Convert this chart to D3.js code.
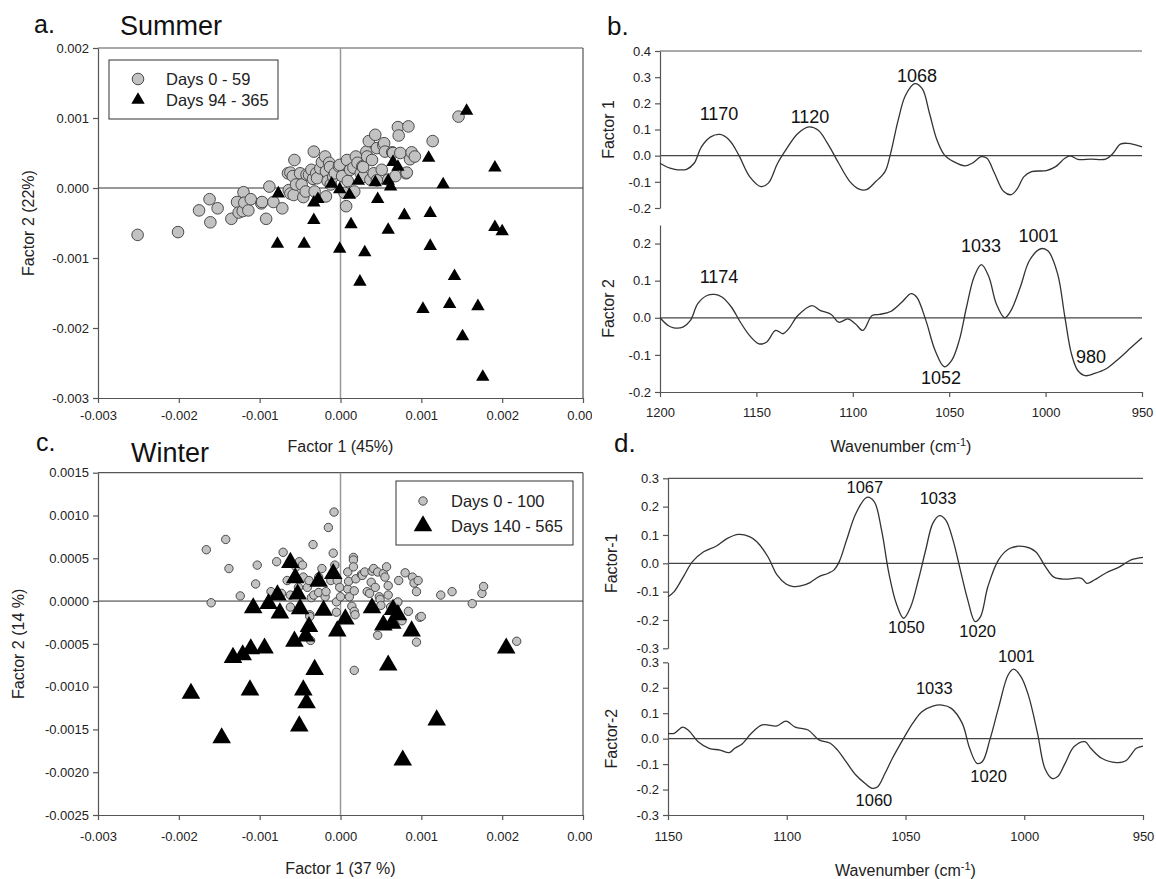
<!DOCTYPE html>
<html>
<head>
<meta charset="utf-8">
<script src="https://cdn.jsdelivr.net/npm/d3@7"></script>
<style>
  body { margin: 0; background: #fff; }
  text { font-family: "Liberation Sans", Arial, sans-serif; }
</style>
</head>
<body>
<script>
// ---- data: PCA factor scores ----
var scoreTicksX = [-0.003, -0.002, -0.001, 0, 0.001, 0.002, 0.003];
var summerTicksY = [0.002, 0.001, 0, -0.001, -0.002, -0.003];
var winterTicksY = [0.0015, 0.001, 0.0005, 0, -0.0005, -0.001, -0.0015, -0.002, -0.0025];

var summerLegend = ["Days 0 - 59", "Days 94 - 365"];
var winterLegend = ["Days 0 - 100", "Days 140 - 565"];

// summer, days 0-59 : [factor1, factor2]
var summerEarly = [[-0.00251,-0.00067],[-0.00201,-0.00063],[-0.00175,-0.00032],[-0.00162,-0.00016],[-0.00161,-0.00049],[-0.00152,-0.00029],[-0.00135,-0.00044],[-0.00128,-0.00020],[-0.00126,-0.00035],[-0.00121,-0.00033],[-0.00120,-0.00006],[-0.00119,-0.00021],[-0.00114,-0.00032],[-0.00111,-0.00016],[-0.00098,-0.00022],[-0.00097,-0.00020],[-0.00092,-0.00044],[-0.00088,0.00002],[-0.00083,-0.00020],[-0.00072,-0.00029],[-0.00065,0.00021],[-0.00064,-0.00003],[-0.00062,0.00022],[-0.00062,-0.00008],[-0.00059,0.00017],[-0.00058,-0.00010],[-0.00057,0.00040],[-0.00055,0.00005],[-0.00050,0.00021],[-0.00048,0.00005],[-0.00046,-0.00013],[-0.00043,-0.00005],[-0.00042,0.00019],[-0.00039,0.00019],[-0.00036,0.00026],[-0.00034,0.00013],[-0.00033,0.00052],[-0.00032,-0.00005],[-0.00030,0.00021],[-0.00029,0.00014],[-0.00025,0.00028],[-0.00023,0.00037],[-0.00019,0.00045],[-0.00018,-0.00012],[-0.00018,0.00024],[-0.00016,0.00010],[-0.00014,0.00036],[-0.00013,0.00030],[-0.00012,0.00005],[-0.00009,0.00016],[-0.00007,0.00021],[-0.00002,0.00031],[-0.00001,0.00033],[0.00002,0.00017],[0.00005,-0.00007],[0.00007,-0.00026],[0.00008,0.00040],[0.00009,0.00010],[0.00012,0.00026],[0.00016,0.00029],[0.00017,-0.00005],[0.00019,0.00045],[0.00021,0.00036],[0.00025,0.00021],[0.00027,0.00031],[0.00028,0.00016],[0.00028,0.00030],[0.00032,0.00052],[0.00033,0.00045],[0.00035,0.00067],[0.00037,0.00012],[0.00039,0.00040],[0.00041,0.00021],[0.00043,0.00076],[0.00045,0.00057],[0.00045,0.00011],[0.00051,0.00026],[0.00053,0.00061],[0.00054,0.00064],[0.00055,0.00052],[0.00059,0.00012],[0.00064,0.00051],[0.00065,0.00050],[0.00068,0.00017],[0.00071,0.00087],[0.00072,0.00075],[0.00074,0.00050],[0.00081,0.00021],[0.00082,0.00022],[0.00084,0.00088],[0.00086,0.00041],[0.00088,0.00051],[0.00092,0.00045],[0.00114,0.00067],[0.00146,0.00102]];

// summer, days 94-365
var summerLate = [[-0.00077,-0.00008],[-0.00078,-0.00080],[-0.00045,-0.00080],[-0.00033,-0.00021],[-0.00033,-0.00046],[-0.00028,-0.00016],[-0.00011,0.00006],[-0.00001,-0.00002],[-0.00001,-0.00087],[0.00011,-0.00010],[0.00013,-0.00052],[0.00022,0.00010],[0.00024,-0.00134],[0.00030,-0.00092],[0.00043,0.00008],[0.00046,-0.00016],[0.00059,0.00010],[0.00059,-0.00060],[0.00062,0.00002],[0.00065,0.00037],[0.00071,0.00030],[0.00079,-0.00039],[0.00102,-0.00173],[0.00109,0.00043],[0.00111,-0.00036],[0.00111,-0.00083],[0.00127,0.00005],[0.00135,-0.00166],[0.00141,-0.00126],[0.00151,-0.00212],[0.00156,0.00110],[0.00170,-0.00169],[0.00176,-0.00270],[0.00191,0.00029],[0.00191,-0.00056],[0.00200,-0.00062]];

// winter, days 0-100
var winterEarly = [[-0.00166,0.00060],[-0.00160,-0.00002],[-0.00142,0.00072],[-0.00138,0.00038],[-0.00124,0.00006],[-0.00105,0.00020],[-0.00103,0.00042],[-0.00086,0.00011],[-0.00079,0.00046],[-0.00073,0.00009],[-0.00071,0.00057],[-0.00066,0.00024],[-0.00062,0.00007],[-0.00062,-0.00007],[-0.00055,0.00040],[-0.00052,0.00016],[-0.00051,0.00046],[-0.00047,0.00042],[-0.00046,0.00028],[-0.00041,0.00016],[-0.00039,0.00024],[-0.00038,-0.00016],[-0.00038,-0.00018],[-0.00037,-0.00046],[-0.00036,0.00004],[-0.00034,0.00066],[-0.00033,0.00007],[-0.00027,0.00028],[-0.00027,0.00010],[-0.00023,0.00038],[-0.00019,0.00005],[-0.00018,0.00011],[-0.00015,0.00086],[-0.00012,0.00024],[-0.00009,0.00056],[-0.00008,0.00104],[-0.00007,0.00042],[-0.00005,-0.00001],[-0.00005,-0.00013],[-0.00004,0.00024],[-0.00001,0.00016],[0.00000,0.00005],[0.00009,0.00034],[0.00009,0.00014],[0.00010,0.00023],[0.00011,0.00005],[0.00014,-0.00006],[0.00016,0.00051],[0.00016,0.00048],[0.00016,0.00040],[0.00017,0.00012],[0.00017,-0.00012],[0.00017,-0.00081],[0.00018,-0.00016],[0.00019,0.00026],[0.00026,0.00031],[0.00027,0.00030],[0.00030,0.00034],[0.00033,0.00011],[0.00036,0.00009],[0.00038,0.00022],[0.00039,0.00035],[0.00041,0.00038],[0.00043,0.00016],[0.00046,0.00034],[0.00046,-0.00040],[0.00048,0.00005],[0.00049,0.00002],[0.00050,-0.00005],[0.00053,0.00032],[0.00055,0.00028],[0.00057,0.00040],[0.00059,0.00007],[0.00059,0.00018],[0.00062,-0.00007],[0.00070,-0.00002],[0.00071,-0.00001],[0.00072,0.00024],[0.00076,-0.00023],[0.00080,0.00033],[0.00084,-0.00012],[0.00089,0.00028],[0.00091,0.00021],[0.00094,0.00011],[0.00094,-0.00048],[0.00096,0.00024],[0.00098,-0.00019],[0.00100,-0.00018],[0.00124,0.00007],[0.00138,0.00011],[0.00163,-0.00003],[0.00175,0.00009],[0.00177,0.00017],[0.00218,-0.00047]];

// winter, days 140-565
var winterLate = [[-0.00185,-0.00108],[-0.00147,-0.00160],[-0.00133,-0.00066],[-0.00121,-0.00063],[-0.00111,-0.00056],[-0.00112,-0.00104],[-0.00108,-0.00008],[-0.00094,-0.00055],[-0.00089,-0.00003],[-0.00078,0.00007],[-0.00075,-0.00014],[-0.00062,0.00045],[-0.00057,-0.00047],[-0.00056,0.00027],[-0.00053,0.00008],[-0.00050,-0.00009],[-0.00051,-0.00146],[-0.00046,-0.00104],[-0.00043,-0.00041],[-0.00042,-0.00119],[-0.00039,-0.00030],[-0.00032,-0.00080],[-0.00027,0.00023],[-0.00021,-0.00011],[-0.00009,0.00032],[-0.00004,-0.00035],[0.00006,-0.00021],[0.00039,-0.00008],[0.00053,-0.00028],[0.00059,-0.00075],[0.00064,-0.00026],[0.00065,-0.00010],[0.00071,-0.00016],[0.00077,-0.00186],[0.00088,-0.00035],[0.00119,-0.00139],[0.00205,-0.00055]];

// ---- data: factor loadings vs wavenumber ----
var summerWaveTicks = [1200, 1150, 1100, 1050, 1000, 950];
var winterWaveTicks = [1150, 1100, 1050, 1000, 950];

var bWave1 = [1200,1194.8,1191,1186.2,1182.3,1178.5,1173.7,1168.8,1164,1159.2,1153.5,1147.7,1143.8,1139,1134.2,1128.5,1122.7,1117.9,1113.1,1107.3,1101.5,1096.7,1092.9,1088.1,1083.3,1080.4,1076.5,1072.7,1067.9,1064,1060.2,1056.3,1052.5,1047.7,1041.9,1038.1,1033.3,1030.4,1026.5,1021.7,1017.9,1015,1011.2,1007.3,999.6,994.8,990,987.1,983.3,976.5,968.8,965,961.2,957.3,950];
var bLoad1 = [-0.029,-0.048,-0.054,-0.052,-0.029,0.034,0.072,0.081,0.059,0.003,-0.080,-0.118,-0.105,-0.029,0.028,0.085,0.110,0.097,0.047,-0.029,-0.099,-0.128,-0.130,-0.099,-0.061,0.009,0.135,0.230,0.275,0.256,0.161,0.059,0.003,-0.023,-0.039,-0.029,-0.004,-0.010,-0.067,-0.137,-0.149,-0.130,-0.080,-0.061,-0.057,-0.042,-0.010,-0.001,-0.014,-0.013,-0.013,0.009,0.044,0.047,0.034];

var bWave2 = [1200,1195.8,1192.9,1188.1,1184.2,1180.4,1175.6,1171.7,1167.9,1163,1158.3,1153.5,1148.7,1144.8,1140,1136.2,1133.3,1128.5,1121.2,1117,1111.2,1107.3,1102.5,1098.7,1094.8,1090,1086.2,1080.4,1074.6,1069.8,1066.9,1062.1,1057.3,1052.5,1048.7,1044.8,1041,1037.1,1033.3,1029.4,1025.6,1021.2,1017.9,1013.1,1008.3,1002.5,998.7,993.8,990,986.6,983.3,979.4,974.6,968.8,963.1,955.4,950];
var bLoad2 = [0.000,-0.021,-0.027,-0.025,-0.007,0.038,0.060,0.063,0.056,0.029,-0.012,-0.048,-0.070,-0.066,-0.034,-0.043,-0.030,0.006,0.033,0.020,0.009,-0.012,-0.003,-0.016,-0.034,0.006,0.009,0.017,0.042,0.065,0.056,-0.007,-0.088,-0.132,-0.115,-0.061,0.029,0.110,0.143,0.110,0.038,0.000,0.020,0.083,0.155,0.186,0.180,0.119,0.002,-0.097,-0.142,-0.156,-0.150,-0.138,-0.115,-0.079,-0.054];

var dWave1 = [1150,1147.4,1143.5,1139.7,1135,1129.6,1125,1120.3,1115.7,1112.6,1108,1104.1,1100.3,1097.2,1094.1,1090.2,1086.4,1082.5,1080.2,1077.9,1074.8,1070.9,1066.3,1063.2,1060.1,1057,1053.9,1050.8,1047.8,1044.6,1041.5,1038.5,1035.7,1033.1,1030,1026.9,1023.8,1020.7,1018.4,1015.3,1010.7,1006,999.8,995.2,991.3,987.5,982.8,975.9,973.6,970.5,965.8,959.7,955,950];
var dLoad1 = [-0.118,-0.100,-0.047,0.006,0.041,0.061,0.088,0.102,0.094,0.076,0.024,-0.041,-0.073,-0.082,-0.080,-0.068,-0.047,-0.035,-0.024,0.006,0.082,0.176,0.233,0.218,0.118,-0.035,-0.141,-0.194,-0.153,-0.059,0.047,0.141,0.168,0.153,0.082,-0.024,-0.129,-0.206,-0.188,-0.082,0.014,0.053,0.059,0.041,-0.009,-0.049,-0.056,-0.053,-0.071,-0.059,-0.035,-0.012,0.012,0.021];

var dWave2 = [1150,1147.4,1143.8,1141.2,1137.3,1132.7,1128.1,1124.2,1121.9,1118.8,1114.9,1110.3,1104.1,1100.3,1096.4,1091,1086.4,1081.7,1078.6,1075.5,1070.9,1067,1064,1061.7,1058.6,1055.5,1050.8,1047,1043.1,1038.5,1034.6,1030.7,1026.1,1023,1019.9,1017.6,1014.5,1010.7,1006.8,1004.5,1001.4,998.3,994.4,991.3,988.3,985.9,982.8,979,974.4,972,967.4,961.2,957.4,952.8,950];
var dLoad2 = [0.021,0.021,0.045,0.031,-0.012,-0.038,-0.045,-0.055,-0.038,-0.021,0.021,0.054,0.050,0.069,0.045,0.034,-0.005,-0.018,-0.045,-0.084,-0.143,-0.176,-0.195,-0.189,-0.136,-0.077,0.001,0.060,0.106,0.128,0.132,0.119,0.060,-0.038,-0.097,-0.090,-0.005,0.126,0.250,0.273,0.244,0.172,0.021,-0.117,-0.156,-0.149,-0.097,-0.031,-0.012,-0.038,-0.077,-0.094,-0.088,-0.038,-0.029];

// peak labels: [text, wavenumber, loading where the label baseline sits]
var bPeaks1 = [["1170", 1169.4, 0.136], ["1120", 1122.2, 0.125], ["1068", 1066.7, 0.282]];
var bPeaks2 = [["1174", 1169.4, 0.093], ["1033", 1033.5, 0.176], ["1001", 1003.7, 0.203], ["1052", 1054.3, -0.179], ["980", 976.5, -0.122]];
var dPeaks1 = [["1067", 1067.1, 0.248], ["1033", 1036.3, 0.209], ["1050", 1049.6, -0.246], ["1020", 1019.6, -0.260]];
var dPeaks2 = [["1001", 1003.3, 0.301], ["1033", 1037.9, 0.176], ["1020", 1015, -0.170], ["1060", 1063.3, -0.264]];

// ---- drawing ----
var svg = d3.select("body").append("svg")
    .attr("width", 1156)
    .attr("height", 879);

// the right end label "0.003" is cut by panel b / d in the original
svg.append("defs").append("clipPath")
    .attr("id", "leftClip")
  .append("rect")
    .attr("x", 0).attr("y", 0)
    .attr("width", 592).attr("height", 879);

function styleAxis(g) {
  g.selectAll("path, line").attr("stroke", "#555").attr("stroke-width", 1.2);
  g.selectAll("text").attr("font-size", 13).attr("fill", "#222")
    .attr("font-family", "Liberation Sans, Arial, sans-serif");
}

var tri = d3.symbol().type(d3.symbolTriangle);

function scatterPanel(o) {
  var x = d3.scaleLinear().domain([-0.003, 0.003]).range([98, 583]);
  var y = d3.scaleLinear().domain(o.yDomain).range([o.bottom, o.top]);
  var g = svg.append("g");

  // box top + right
  g.append("line").attr("x1", x.range()[0]).attr("x2", x.range()[1])
    .attr("y1", o.top).attr("y2", o.top).attr("stroke", "#555").attr("stroke-width", 1.2);
  g.append("line").attr("x1", x.range()[1]).attr("x2", x.range()[1])
    .attr("y1", o.top).attr("y2", o.bottom).attr("stroke", "#555").attr("stroke-width", 1.2);

  // zero lines
  g.append("line").attr("x1", x(0)).attr("x2", x(0))
    .attr("y1", o.top).attr("y2", o.bottom).attr("stroke", "#999").attr("stroke-width", 1.5);
  g.append("line").attr("x1", x.range()[0]).attr("x2", x.range()[1])
    .attr("y1", y(0)).attr("y2", y(0)).attr("stroke", "#333").attr("stroke-width", 1);

  var xAxis = g.append("g")
    .attr("transform", "translate(0," + o.bottom + ")")
    .attr("clip-path", "url(#leftClip)")
    .call(d3.axisBottom(x).tickValues(scoreTicksX).tickFormat(function(d) { return d.toFixed(3); })
      .tickSize(5).tickSizeOuter(0).tickPadding(o.xPad));
  styleAxis(xAxis);

  var yAxis = g.append("g")
    .attr("transform", "translate(" + x.range()[0] + ",0)")
    .call(d3.axisLeft(y).tickValues(o.yTicks).tickFormat(function(d) { return d.toFixed(o.yDigits); })
      .tickSize(5).tickSizeOuter(0).tickPadding(4));
  styleAxis(yAxis);

  g.selectAll("circle.early")
    .data(o.early)
    .enter()
    .append("circle")
    .attr("class", "early")
    .attr("cx", function(d) { return x(d[0]); })
    .attr("cy", function(d) { return y(d[1]); })
    .attr("r", o.r)
    .attr("fill", "#c2c2c2")
    .attr("stroke", "#4a4a4a")
    .attr("stroke-width", 1);

  g.selectAll("path.late")
    .data(o.late)
    .enter()
    .append("path")
    .attr("class", "late")
    .attr("d", tri.size(o.triSize)())
    .attr("transform", function(d) { return "translate(" + x(d[0]) + "," + y(d[1]) + ")"; })
    .attr("fill", "#000");

  // legend
  var L = o.legend;
  g.append("rect").attr("x", L.x).attr("y", L.y).attr("width", L.w).attr("height", L.h)
    .attr("fill", "#fff").attr("stroke", "#333").attr("stroke-width", 1);
  g.append("circle").attr("cx", L.mx).attr("cy", L.y1).attr("r", o.r)
    .attr("fill", "#c2c2c2").attr("stroke", "#4a4a4a");
  g.append("path").attr("d", tri.size(o.triSize)())
    .attr("transform", "translate(" + L.mx + "," + L.y2 + ")").attr("fill", "#000");
  g.append("text").attr("x", L.tx).attr("y", L.y1 + 6).attr("font-size", 16.5).attr("fill", "#222").text(o.labels[0]);
  g.append("text").attr("x", L.tx).attr("y", L.y2 + 6).attr("font-size", 16.5).attr("fill", "#222").text(o.labels[1]);

  // axis titles
  g.append("text")
    .attr("transform", "translate(" + o.yTitleX + "," + (o.top + o.bottom) / 2 + ") rotate(-90)")
    .attr("text-anchor", "middle").attr("dy", "0.35em")
    .attr("font-size", 16).attr("fill", "#222").text(o.yTitle);
  g.append("text")
    .attr("x", x(0)).attr("y", o.xTitleY)
    .attr("text-anchor", "middle").attr("font-size", 16).attr("fill", "#222").text(o.xTitle);

  // panel letter + season
  g.append("text").attr("x", o.letterX).attr("y", o.letterY).attr("font-size", 25).attr("fill", "#111").text(o.letter);
  g.append("text").attr("x", o.seasonX).attr("y", o.seasonY).attr("font-size", 27).attr("fill", "#111").text(o.season);
}

function loadingSubplot(parent, x, o) {
  var g = parent.append("g");
  var y = d3.scaleLinear().domain(o.yDomain).range([o.bottom, o.top]);

  if (o.topBorder) {
    g.append("line").attr("x1", x.range()[0]).attr("x2", x.range()[1])
      .attr("y1", y(o.yDomain[1])).attr("y2", y(o.yDomain[1]))
      .attr("stroke", "#555").attr("stroke-width", 1.2);
  }
  g.append("line").attr("x1", x.range()[0]).attr("x2", x.range()[1])
    .attr("y1", y(0)).attr("y2", y(0)).attr("stroke", "#444").attr("stroke-width", 1.2);

  var yAxis = g.append("g")
    .attr("transform", "translate(" + x.range()[0] + ",0)")
    .call(d3.axisLeft(y).tickValues(o.yTicks).tickFormat(function(d) { return d.toFixed(1); })
      .tickSize(5).tickSizeOuter(0).tickPadding(4));
  styleAxis(yAxis);

  var line = d3.line()
    .x(function(d) { return x(d[0]); })
    .y(function(d) { return y(d[1]); })
    .curve(d3.curveCatmullRom.alpha(0.5));

  g.append("path")
    .datum(d3.zip(o.wave, o.load))
    .attr("d", line)
    .attr("fill", "none")
    .attr("stroke", "#333")
    .attr("stroke-width", 1.3);

  g.selectAll("text.peak")
    .data(o.peaks)
    .enter()
    .append("text")
    .attr("class", "peak")
    .attr("x", function(d) { return x(d[1]); })
    .attr("y", function(d) { return y(d[2]); })
    .attr("text-anchor", "middle")
    .attr("font-family", o.peakFont)
    .attr("font-size", o.peakSize)
    .attr("fill", "#111")
    .text(function(d) { return d[0]; });

  g.append("text")
    .attr("transform", "translate(" + o.titleX + "," + (o.top + o.bottom) / 2 + ") rotate(-90)")
    .attr("text-anchor", "middle").attr("dy", "0.35em")
    .attr("font-size", 16).attr("fill", "#222").text(o.title);
}

function loadingPanel(o) {
  var x = d3.scaleLinear().domain(o.xDomain).range(o.xRange);
  var g = svg.append("g");
  o.sub.forEach(function(s) { loadingSubplot(g, x, s); });

  var xAxis = g.append("g")
    .attr("transform", "translate(0," + o.axisY + ")")
    .call(d3.axisBottom(x).tickValues(o.ticks).tickFormat(function(d) { return d; })
      .tickSize(5).tickSizeOuter(0).tickPadding(o.xPad));
  styleAxis(xAxis);

  var t = g.append("text")
    .attr("x", (o.xRange[0] + o.xRange[1]) / 2).attr("y", o.xTitleY)
    .attr("text-anchor", "middle").attr("font-size", 16).attr("fill", "#222");
  t.append("tspan").text("Wavenumber (cm");
  t.append("tspan").attr("dy", -6).attr("font-size", 11).text("-1");
  t.append("tspan").attr("dy", 6).text(")");

  g.append("text").attr("x", o.letterX).attr("y", o.letterY).attr("font-size", 26).attr("fill", "#111").text(o.letter);
}

// a. Summer scores
scatterPanel({
  top: 48, bottom: 398, yDomain: [-0.003, 0.002], yTicks: summerTicksY, yDigits: 3, xPad: 8,
  early: summerEarly, late: summerLate, r: 5.8, triSize: 78, labels: summerLegend,
  legend: { x: 109, y: 60, w: 169, h: 59, mx: 138, y1: 79, y2: 100, tx: 166 },
  yTitle: "Factor 2 (22%)", yTitleX: 28, xTitle: "Factor 1 (45%)", xTitleY: 452,
  letter: "a.", letterX: 34, letterY: 33, season: "Summer", seasonX: 120, seasonY: 35
});

// c. Winter scores
scatterPanel({
  top: 472.7, bottom: 815, yDomain: [-0.0025, 0.0015], yTicks: winterTicksY, yDigits: 4, xPad: 12,
  early: winterEarly, late: winterLate, r: 4.2, triSize: 150, labels: winterLegend,
  legend: { x: 396, y: 481, w: 177, h: 64, mx: 423, y1: 501, y2: 526, tx: 451 },
  yTitle: "Factor 2 (14 %)", yTitleX: 18, xTitle: "Factor 1 (37 %)", xTitleY: 874,
  letter: "c.", letterX: 36, letterY: 451, season: "Winter", seasonX: 131, seasonY: 462
});

// b. Summer loadings
loadingPanel({
  xDomain: [1200, 950], xRange: [660, 1142], ticks: summerWaveTicks, axisY: 392, xPad: 11, xTitleY: 452,
  letter: "b.", letterX: 607, letterY: 35,
  sub: [
    { top: 51, bottom: 208, yDomain: [-0.2, 0.4], yTicks: [-0.2, -0.1, 0, 0.1, 0.2, 0.3, 0.4], topBorder: true,
      wave: bWave1, load: bLoad1, peaks: bPeaks1, title: "Factor 1", titleX: 608,
      peakFont: "Open Sans, sans-serif", peakSize: 18 },
    { top: 225, bottom: 392, yDomain: [-0.2, 0.25], yTicks: [-0.2, -0.1, 0, 0.1, 0.2], topBorder: false,
      wave: bWave2, load: bLoad2, peaks: bPeaks2, title: "Factor 2", titleX: 608,
      peakFont: "Open Sans, sans-serif", peakSize: 18 }
  ]
});

// d. Winter loadings
loadingPanel({
  xDomain: [1150, 950], xRange: [668, 1143], ticks: winterWaveTicks, axisY: 815, xPad: 12, xTitleY: 876,
  letter: "d.", letterX: 614, letterY: 452,
  sub: [
    { top: 478.3, bottom: 648.3, yDomain: [-0.3, 0.3], yTicks: [-0.3, -0.2, -0.1, 0, 0.1, 0.2, 0.3], topBorder: true,
      wave: dWave1, load: dLoad1, peaks: dPeaks1, title: "Factor-1", titleX: 611,
      peakFont: "Liberation Sans, Arial, sans-serif", peakSize: 16.5 },
    { top: 662.3, bottom: 815, yDomain: [-0.3, 0.3], yTicks: [-0.3, -0.2, -0.1, 0, 0.1, 0.2, 0.3], topBorder: false,
      wave: dWave2, load: dLoad2, peaks: dPeaks2, title: "Factor-2", titleX: 611,
      peakFont: "Liberation Sans, Arial, sans-serif", peakSize: 16.5 }
  ]
});
</script>
</body>
</html>
